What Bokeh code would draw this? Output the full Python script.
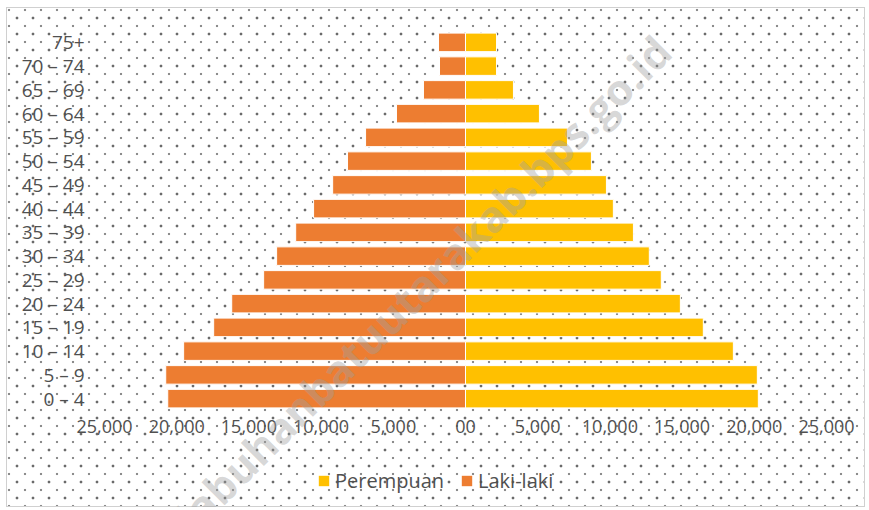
from bokeh.plotting import figure
from bokeh.models import FactorRange, Range1d, FixedTicker, Legend, LegendItem
from bokeh.layouts import column
from bokeh.core.properties import value
from bokeh.embed import file_html
from bokeh.resources import INLINE
import math

# ---- data ----
age_groups = ["0 – 4", "5 – 9", "10 – 14", "15 – 19", "20 – 24", "25 – 29", "30 – 34",
              "35 – 39", "40 – 44", "45 – 49", "50 – 54", "55 – 59", "60 – 64",
              "65 – 69", "70 – 74", "75+"]
laki_laki = [20620, 20760, 19520, 17440, 16190, 13980, 13080, 11760, 10520, 9200,
             8170, 6920, 4780, 2910, 1800, 1870]
perempuan = [20280, 20210, 18550, 16470, 14880, 13560, 12730, 11630, 10240, 9760,
             8720, 7060, 5120, 3320, 2150, 2150]
x_tick_values = [-25000, -20000, -15000, -10000, -5000, 0, 5000, 10000, 15000, 20000, 25000]
x_tick_labels = ["25,000", "20,000", "15,000", "10,000", "5,000", "00",
                 "5,000", "10,000", "15,000", "20,000", "25,000"]
legend_labels = ["Perempuan", "Laki-laki"]
watermark = "labuhanbatuutarakab.bps.go.id"

ORANGE = "#ED7D31"
YELLOW = "#FFC000"
TEXT = "#505050"
FONT = "Open Sans"
W, H = 859, 500

dot_bg = ("radial-gradient(circle, #6a6a6a 1.2px, transparent 1.7px), "
          "radial-gradient(circle, #8c8c8c 1.1px, transparent 1.6px)")

p = figure(width=W, height=H, output_backend="svg", toolbar_location=None,
           y_range=FactorRange(factors=age_groups, range_padding=0),
           x_range=Range1d(-25000, 25000),
           min_border_left=97, min_border_right=40, min_border_top=22, min_border_bottom=98,
           styles={"border": "1px solid #d0d0d0",
                   "margin-left": "6px", "margin-top": "7px",
                   "background-color": "white",
                   "background-image": dot_bg,
                   "background-size": "16px 16px",
                   "background-position": "2px 2px, 10px 10px"})
p.outline_line_color = None
p.background_fill_alpha = 0
p.border_fill_alpha = 0

neg_male = [-v for v in laki_laki]
p.hbar(y=age_groups, left=neg_male, right=0, height=0.78,
       fill_color=ORANGE, line_color="white", line_width=1)
p.hbar(y=age_groups, left=0, right=perempuan, height=0.78,
       fill_color=YELLOW, line_color="white", line_width=1)

p.xgrid.visible = False
p.ygrid.visible = False

p.xaxis.ticker = FixedTicker(ticks=x_tick_values)
p.xaxis.major_label_overrides = {v: s for v, s in zip(x_tick_values, x_tick_labels)}
for ax in (p.xaxis[0], p.yaxis[0]):
    ax.axis_line_color = None
    ax.major_tick_line_color = None
    ax.minor_tick_line_color = None
    ax.major_label_text_color = TEXT
    ax.major_label_text_font = FONT
p.xaxis.major_label_text_font_size = "18px"
p.xaxis.major_label_standoff = 3
p.yaxis.major_label_text_font_size = "19px"
p.yaxis.major_label_standoff = 14

# transparent overlay (same size as the chart) carrying the legend and the
# diagonal watermark, so that neither is clipped to the plot frame
q = figure(width=W + 2, height=H + 2, output_backend="svg", toolbar_location=None,
           x_range=Range1d(0, W + 2), y_range=Range1d(0, H + 2),
           x_axis_type=None, y_axis_type=None, min_border=0,
           styles={"margin-left": "6px", "margin-top": f"-{H + 2}px",
                   "pointer-events": "none"})
q.outline_line_color = None
q.background_fill_alpha = 0
q.border_fill_alpha = 0
q.grid.visible = False

# legend key swatches (drawn outside the overlay's visible range)
key_f = q.hbar(y=[-50], left=[0], right=[1], height=1, fill_color=YELLOW, line_color=None)
key_m = q.hbar(y=[-50], left=[0], right=[1], height=1, fill_color=ORANGE, line_color=None)
legend = Legend(items=[LegendItem(label=legend_labels[0], renderers=[key_f]),
                       LegendItem(label=legend_labels[1], renderers=[key_m])],
                orientation="horizontal", location=(214, 13),
                glyph_width=13, glyph_height=13, label_standoff=5, spacing=16,
                padding=4, margin=0,
                label_text_font=FONT, label_text_font_size="20px", label_text_color=TEXT,
                background_fill_alpha=0, border_line_color=None)
q.add_layout(legend, "center")

q.text(x=[380], y=[H + 2 - 278], text=[watermark], angle=math.pi / 4,
       text_align="center", text_baseline="middle",
       text_font=value(FONT), text_font_style="bold", text_font_size="43px",
       text_color="#a0a0a0", text_alpha=0.42)

layout = column(p, q, spacing=0)
open("out.html", "w").write(file_html(layout, INLINE))
